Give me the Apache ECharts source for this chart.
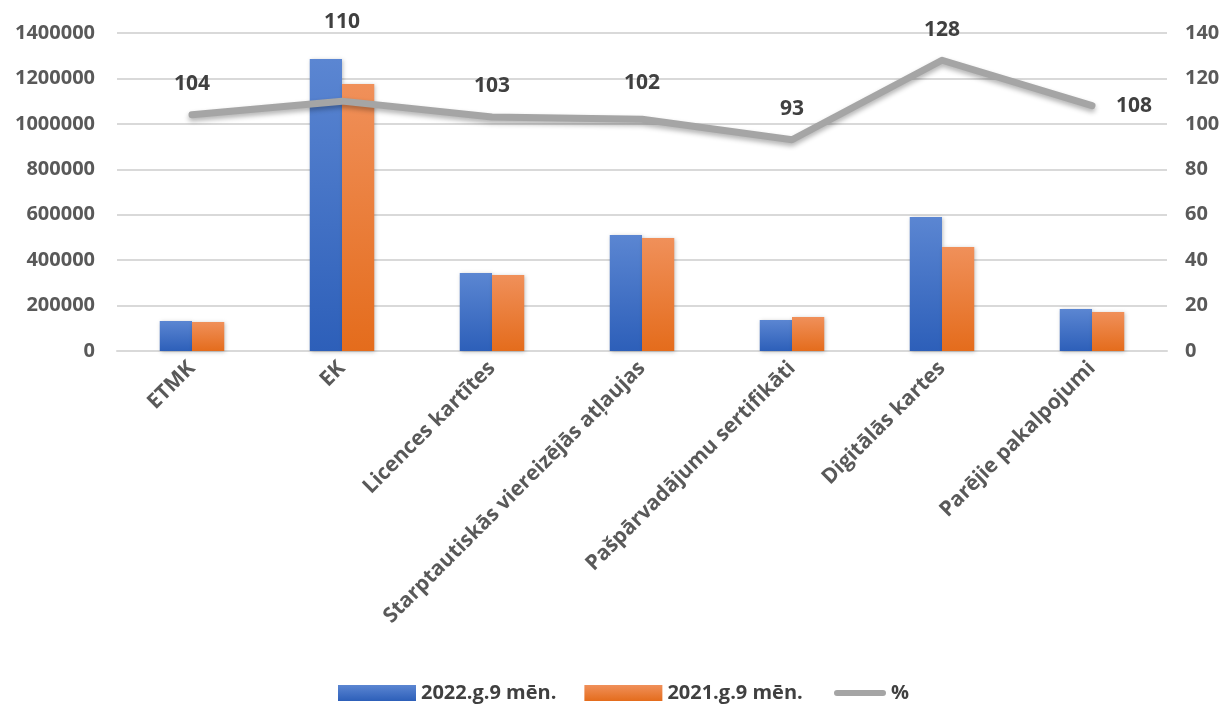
<!DOCTYPE html>
<html><head><meta charset="utf-8">
<script src="https://cdn.jsdelivr.net/npm/echarts@6/dist/echarts.min.js"></script>
<style>html,body{margin:0;padding:0;background:#fff;}#c{width:1231px;height:708px;}</style>
</head><body><div id="c"></div>
<script>
const categories = ['ETMK','EK','Licences kartītes','Starptautiskās viereizējās atļaujas','Pašpārvadājumu sertifikāti','Digitālās kartes','Parējie pakalpojumi'];
const values2022 = [132000, 1285000, 343000, 511000, 137000, 590000, 185000];
const values2021 = [128000, 1175000, 335000, 498000, 150000, 458000, 172000];
const percent = [104, 110, 103, 102, 93, 128, 108];
const leftTicks = {min: 0, max: 1400000, interval: 200000};
const rightTicks = {min: 0, max: 140, interval: 20};

const FONT = '"Open Sans", "Noto Sans", sans-serif';
const grad = (top, bottom) => new echarts.graphic.LinearGradient(0,0,0,1,[{offset:0,color:top},{offset:1,color:bottom}]);

const labelOverrides = {1: {distance: 69}, 3: {distance: 26}, 6: {position: 'right', distance: 24}};
const lineData = percent.map((v, i) => labelOverrides[i] ? {value: v, label: labelOverrides[i]} : v);

const legendText = {fontFamily: FONT, fontWeight: 'bold', fontSize: 20, color: '#404040'};
const chart = echarts.init(document.getElementById('c'));
chart.setOption({
  backgroundColor: '#fff',
  textStyle: {fontFamily: FONT},
  grid: {left: 117, right: 64, top: 33, bottom: 357, containLabel: false},
  legend: [
    {bottom: 0, left: 333, itemGap: 28, itemWidth: 78, itemHeight: 16, textStyle: legendText,
     data: [{name: '2022.g.9 mēn.', icon: 'rect'}, {name: '2021.g.9 mēn.', icon: 'rect'}]},
    {bottom: 0, left: 829, itemWidth: 52, itemHeight: 16, itemGap: 4, textStyle: legendText,
     data: [{name: '%', icon: 'path://M0,0 L0,0.01 M3,5 L49,5 A3,3 0 0 1 49,11 L3,11 A3,3 0 0 1 3,5 Z M52,16 L52,15.99', itemStyle: {color: '#a5a5a5', opacity: 1}}]}
  ],
  xAxis: {
    type: 'category', data: categories,
    axisLine: {show: true, lineStyle: {color: '#d9d9d9', width: 2}},
    axisTick: {show: false},
    axisLabel: {rotate: 45, interval: 0, fontFamily: FONT, fontWeight: 'bold', fontSize: 21, color: '#595959', margin: 14}
  },
  yAxis: [
    {type: 'value', min: leftTicks.min, max: leftTicks.max, interval: leftTicks.interval,
     axisLine: {show: false}, axisTick: {show: false},
     splitLine: {lineStyle: {color: '#d9d9d9', width: 2}},
     axisLabel: {fontFamily: FONT, fontWeight: 'bold', fontSize: 20, color: '#595959', margin: 22, formatter: v => String(v)}},
    {type: 'value', min: rightTicks.min, max: rightTicks.max, interval: rightTicks.interval,
     axisLine: {show: false}, axisTick: {show: false}, splitLine: {show: false},
     axisLabel: {fontFamily: FONT, fontWeight: 'bold', fontSize: 20, color: '#595959', margin: 18}}
  ],
  series: [
    {name: '2022.g.9 mēn.', type: 'bar', data: values2022, barGap: '0%', barCategoryGap: '57%',
     itemStyle: {color: grad('#5b86d2', '#2d5fb9'), shadowColor: 'rgba(0,0,0,0.25)', shadowBlur: 4, shadowOffsetX: 1, shadowOffsetY: 1}},
    {name: '2021.g.9 mēn.', type: 'bar', data: values2021,
     itemStyle: {color: grad('#f0905a', '#e46c1c'), shadowColor: 'rgba(0,0,0,0.25)', shadowBlur: 4, shadowOffsetX: 1, shadowOffsetY: 1}},
    {name: '%', type: 'line', yAxisIndex: 1, data: lineData, symbol: 'circle', symbolSize: 0.1, showSymbol: true,
     itemStyle: {color: '#a5a5a5'},
     lineStyle: {color: '#a5a5a5', width: 7, cap: 'round', join: 'round', shadowColor: 'rgba(0,0,0,0.3)', shadowBlur: 5, shadowOffsetY: 3},
     label: {show: true, position: 'top', distance: 20, fontFamily: FONT, fontWeight: 'bold', fontSize: 21, color: '#404040'},
     labelLayout: {hideOverlap: false},
     z: 5}
  ]
});
</script></body></html>
